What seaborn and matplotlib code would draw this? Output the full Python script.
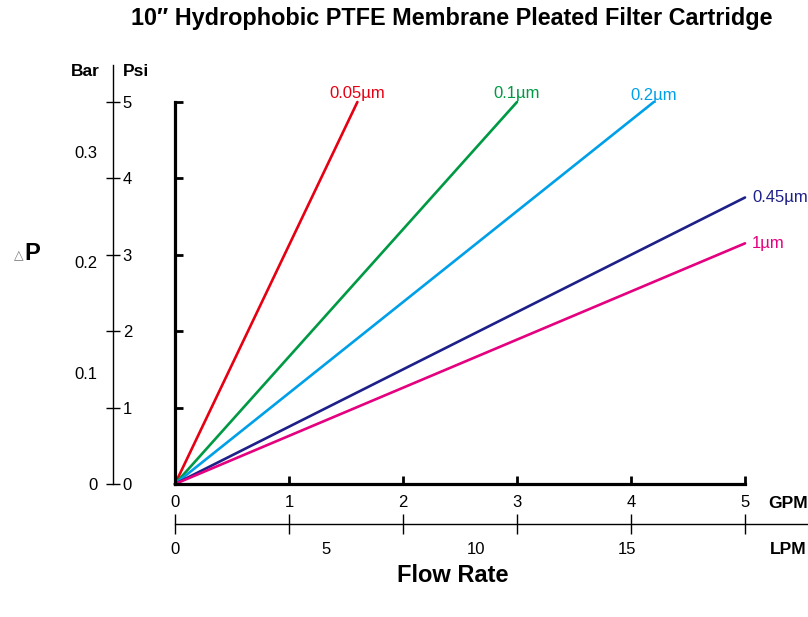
import numpy as np
import pandas as pd
import matplotlib
matplotlib.use('Agg')
import matplotlib.pyplot as plt
import seaborn as sns

# data
pore_sizes = ['0.05µm', '0.1µm', '0.2µm', '0.45µm', '1µm']
end_flow_gpm = [1.6, 3.0, 4.2, 5.0, 5.0]
end_dp_psi = [5.0, 5.0, 5.0, 3.75, 3.15]
line_colors = ['#E60012', '#009944', '#00A0E9', '#1D2088', '#E4007F']

psi_ticks = [0, 1, 2, 3, 4, 5]
bar_ticks = [0, 0.1, 0.2, 0.3]
gpm_ticks = [0, 1, 2, 3, 4, 5]
lpm_ticks = [0, 5, 10, 15]
PSI_PER_BAR = 14.5
LPM_PER_GPM = 3.785

sns.set_theme(style='white')
plt.rcParams['font.family'] = ['Liberation Sans', 'DejaVu Sans']
plt.rcParams['text.color'] = 'black'
plt.rcParams['xtick.color'] = 'black'
plt.rcParams['ytick.color'] = 'black'
plt.rcParams['axes.labelcolor'] = 'black'

rows = []
for name, q, dp in zip(pore_sizes, end_flow_gpm, end_dp_psi):
    rows.append({'pore': name, 'gpm': 0.0, 'psi': 0.0})
    rows.append({'pore': name, 'gpm': q, 'psi': dp})
df = pd.DataFrame(rows)

W, H = 808, 617
fig = plt.figure(figsize=(W / 100, H / 100), dpi=100)

x0, x5 = 175, 745
y0, y5 = 484, 102
ax = fig.add_axes([x0 / W, (H - y0) / H, (x5 - x0) / W, (y0 - y5) / H])
ax.set_facecolor('none')

sns.lineplot(data=df, x='gpm', y='psi', hue='pore', hue_order=pore_sizes,
             palette=line_colors, estimator=None, sort=False, legend=False,
             linewidth=1.9, ax=ax)
for ln in ax.lines:
    ln.set_clip_on(False)

ax.set_xlim(0, 5)
ax.set_ylim(0, 5)
for s in ['top', 'right']:
    ax.spines[s].set_visible(False)
for s in ['left', 'bottom']:
    ax.spines[s].set_linewidth(2.3)
    ax.spines[s].set_color('black')
ax.set_xticks(gpm_ticks)
ax.set_yticks(psi_ticks)
ax.tick_params(axis='x', direction='in', length=6, width=2, color='black',
               bottom=True, labelsize=12, pad=8)
ax.tick_params(axis='y', direction='in', length=6, width=2, color='black',
               left=True, labelleft=False)
ax.set_xlabel('')
ax.set_ylabel('')

# line labels
offsets = [(0, 6), (0, 6), (0, 5), (5, 0), (5, 0)]
aligns = [('center', 'center'), ('center', 'center'), ('center', 'center'),
          ('left', 'center'), ('left', 'center')]
for name, q, dp, c, off, al in zip(pore_sizes, end_flow_gpm, end_dp_psi,
                                    line_colors, offsets, aligns):
    ax.annotate(name, (q, dp), xytext=off, textcoords='offset points',
                ha=al[0], va=al[1], color=c, fontsize=12)

# Psi / Bar axis
px, ptop = 113, 65
ax2 = fig.add_axes([px / W, (H - y0) / H, 0.0001, (y0 - ptop) / H])
ax2.set_facecolor('none')
psi_max = 5 * (y0 - ptop) / (y0 - y5)
ax3 = ax2.twinx()

ax2.set_ylim(0, psi_max)
ax2.set_xticks([])
for s in ['top', 'right', 'bottom']:
    ax2.spines[s].set_visible(False)
ax2.spines['left'].set_linewidth(1)
ax2.spines['left'].set_color('black')
ax2.set_yticks(psi_ticks)
ax2.tick_params(axis='y', left=True, right=True, direction='out', length=5,
                width=1, color='black', labelleft=False, labelright=True,
                labelsize=12, pad=2)

ax3.set_ylim(0, psi_max / PSI_PER_BAR)
for s in ax3.spines.values():
    s.set_visible(False)
ax3.set_yticks(bar_ticks)
ax3.set_yticklabels(['0', '0.1', '0.2', '0.3'])
ax3.tick_params(axis='y', left=True, right=False, labelleft=True,
                labelright=False, length=0, labelsize=12, pad=11)

# GPM / LPM axis
ly = 524
ax4 = fig.add_axes([x0 / W, (H - ly) / H, (W - x0) / W, 0.0001])
ax4.set_facecolor('none')
gpm_max = 5 * (W - x0) / (x5 - x0)
ax5 = ax4.twiny()

ax4.set_xlim(0, gpm_max)
ax4.set_yticks([])
for s in ['top', 'right', 'left']:
    ax4.spines[s].set_visible(False)
ax4.spines['bottom'].set_linewidth(1)
ax4.spines['bottom'].set_color('black')
ax4.set_xticks(gpm_ticks)
ax4.tick_params(axis='x', bottom=True, top=False, direction='inout',
                length=14, width=1, color='black', labelbottom=False,
                labeltop=False)

ax5.set_xlim(0, gpm_max * LPM_PER_GPM)
for s in ax5.spines.values():
    s.set_visible(False)
ax5.set_xticks(lpm_ticks)
ax5.tick_params(axis='x', bottom=True, top=False, labelbottom=True,
                labeltop=False, length=0, labelsize=12, pad=13)

# texts
fig.text(452 / W, 1 - 18 / H, '10″ Hydrophobic PTFE Membrane Pleated Filter Cartridge',
         ha='center', va='center', fontsize=16.8, fontweight='bold')
fig.text(85 / W, 1 - 72 / H, 'Bar', ha='center', va='center',
         fontsize=12.5, fontweight='bold')
fig.text(136 / W, 1 - 72 / H, 'Psi', ha='center', va='center',
         fontsize=12.5, fontweight='bold')
fig.text(788 / W, 1 - 503 / H, 'GPM', ha='center', va='center',
         fontsize=12.5, fontweight='bold')
fig.text(788 / W, 1 - 549 / H, 'LPM', ha='center', va='center',
         fontsize=12.5, fontweight='bold')
fig.text(453 / W, 1 - 575 / H, 'Flow Rate', ha='center', va='center',
         fontsize=17, fontweight='bold')
fig.text(24 / W, 1 - 256 / H, '△', ha='right', va='center',
         fontsize=9, color='#777777', family=['DejaVu Sans'])
fig.text(24 / W, 1 - 254 / H, 'P', ha='left', va='center',
         fontsize=17, fontweight='bold')

fig.savefig('out.png', dpi=100)
